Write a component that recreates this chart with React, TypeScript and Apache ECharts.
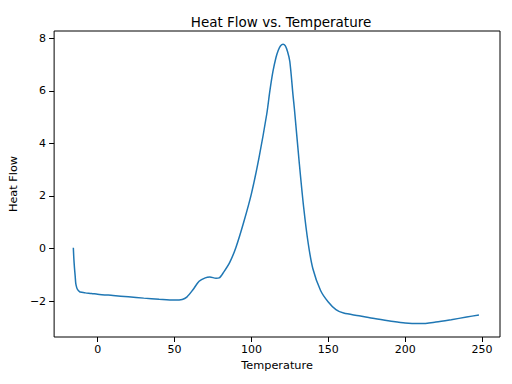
import React, { useEffect, useRef } from "react";
import * as echarts from "echarts";

const temperature = [
  -15.8, -15.5, -15.1, -14.6, -14.2, -13.6, -13.0, -12.2, -11.4, -8, -4, 0, 10, 20, 30, 40, 50, 55, 58, 62, 66, 70, 73,
  77, 79, 82, 86, 90, 95, 100, 105, 110, 112, 114, 116, 117.5, 119, 120.6, 122, 123.5, 125, 127.1, 128, 131, 134, 137,
  140, 145, 150, 155, 160, 170, 180, 190, 200, 210, 220, 230, 240, 248,
];
const heatFlow = [
  0.03, -0.35, -0.71, -1.05, -1.34, -1.49, -1.57, -1.62, -1.66, -1.69, -1.71, -1.74, -1.79, -1.84, -1.89, -1.93,
  -1.96, -1.94, -1.85, -1.57, -1.25, -1.12, -1.09, -1.13, -1.12, -0.9, -0.52, 0.05, 1.0, 2.08, 3.47, 5.12, 5.99,
  6.73, 7.27, 7.55, 7.72, 7.78, 7.72, 7.5, 7.12, 5.82, 5.3, 3.35, 1.57, 0.18, -0.77, -1.6, -2.04, -2.33, -2.46, -2.56,
  -2.67, -2.76, -2.84, -2.86, -2.8, -2.71, -2.61, -2.53,
];
const xTicks = [0, 50, 100, 150, 200, 250];
const yTicks = [-2, 0, 2, 4, 6, 8];

const FONT = "DejaVu Sans";

export default function App() {
  const ref = useRef<HTMLDivElement>(null);
  useEffect(() => {
    if (!ref.current) return;
    const chart = echarts.init(ref.current, undefined, { renderer: "svg" });
    const data = temperature.map((t, i) => [t, heatFlow[i]]);
    const fmt = (v: number) => String(v).replace("-", "\u2212");
    chart.setOption({
      animation: false,
      backgroundColor: "#ffffff",
      title: {
        text: "Heat Flow vs. Temperature",
        left: 276,
        textAlign: "center",
        top: 10,
        textStyle: { fontFamily: FONT, fontSize: 13.5, fontWeight: "normal", color: "#000" },
      },
      grid: {
        left: 52,
        right: 12,
        top: 31,
        bottom: 47,
        show: true,
        borderColor: "#000",
        borderWidth: 1,
        backgroundColor: "transparent",
      },
      xAxis: {
        type: "value",
        min: -28.3,
        max: 261.7,
        name: "Temperature",
        nameLocation: "middle",
        nameGap: 21,
        nameTextStyle: { fontFamily: FONT, fontSize: 11.3, color: "#000" },
        axisLine: { show: false, onZero: false },
        splitLine: { show: false },
        axisTick: { show: true, inside: false, length: 5, lineStyle: { color: "#000" }, customValues: xTicks },
        axisLabel: {
          fontFamily: FONT,
          fontSize: 11,
          color: "#000",
          margin: 7,
          customValues: xTicks,
          formatter: fmt,
        },
      },
      yAxis: {
        type: "value",
        min: -3.37,
        max: 8.28,
        name: "Heat Flow",
        nameLocation: "middle",
        nameGap: 27,
        nameRotate: 90,
        nameTextStyle: { fontFamily: FONT, fontSize: 11.3, color: "#000" },
        axisLine: { show: false, onZero: false },
        splitLine: { show: false },
        axisTick: { show: true, inside: false, length: 5, lineStyle: { color: "#000" }, customValues: yTicks },
        axisLabel: {
          fontFamily: FONT,
          fontSize: 11,
          color: "#000",
          margin: 8,
          customValues: yTicks,
          formatter: fmt,
        },
      },
      series: [
        {
          type: "line",
          data,
          showSymbol: false,
          smooth: 0.3,
          lineStyle: { color: "#1f77b4", width: 1.5 },
        },
      ],
    });
    return () => chart.dispose();
  }, []);
  return <div ref={ref} style={{ width: 512, height: 384, position: "absolute", left: 0, top: 0 }} />;
}
